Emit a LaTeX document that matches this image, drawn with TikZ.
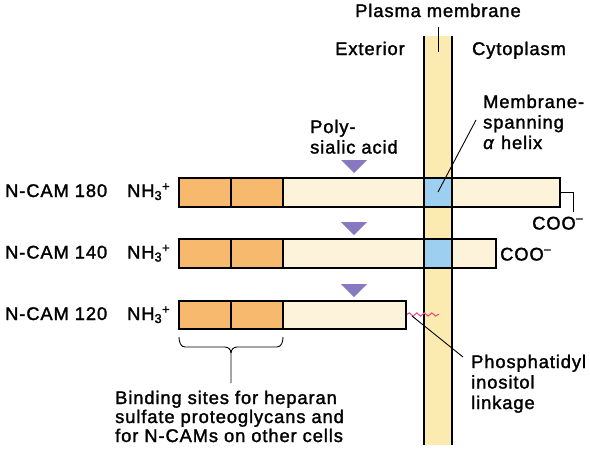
\documentclass[tikz,border=0pt]{standalone}
\usepackage{fontspec}
\setmainfont{Liberation Sans}[LetterSpace=5,FakeBold=1.6]
\usetikzlibrary{decorations.pathmorphing}
\definecolor{orangeD}{HTML}{F6B96E}
\definecolor{creamD}{HTML}{FDF2DA}
\definecolor{membY}{HTML}{FCEBB0}
\definecolor{blueH}{HTML}{9DD0F0}
\definecolor{purpT}{HTML}{8878C0}
\definecolor{pinkW}{HTML}{E8508A}
\newcommand{\lns}[1]{\begin{tabular}[t]{@{}l@{}}#1\end{tabular}}
\begin{document}
\begin{tikzpicture}[x=1pt,y=-1pt,
  lbl/.style={font=\fontsize{18.3}{20.5}\selectfont, inner sep=0pt, anchor=base west},
  lblc/.style={font=\fontsize{18.3}{20.5}\selectfont, inner sep=0pt, anchor=base},
  bline/.style={draw=black, line width=1.1pt},
  lead/.style={draw=black, line width=0.9pt},
  tri/.style={fill=purpT}]
\useasboundingbox (0,0) rectangle (590,450);
\fill[white] (0,0) rectangle (590,450);
% membrane
\fill[membY] (424,36) rectangle (452,445);
% bars
\foreach \ya/\yb/\xe/\bl in {178/207/560/1, 239/268/496/1, 301/329/406/0}{
  \fill[creamD] (179,\ya) rectangle (\xe,\yb);
  \fill[orangeD] (179,\ya) rectangle (283,\yb);
  \ifnum\bl=1 \fill[blueH] (424,\ya) rectangle (452,\yb); \fi
  \draw[bline] (179,\ya) rectangle (\xe,\yb);
  \draw[bline] (231,\ya) -- (231,\yb);
  \draw[bline] (283,\ya) -- (283,\yb);
}
\draw[bline] (424,36) -- (424,445);
\draw[bline] (452,36) -- (452,445);
% polysialic triangles
\fill[tri] (341,160) -- (367,160) -- (354,173) -- cycle;
\fill[tri] (341,222) -- (367,222) -- (354,235) -- cycle;
\fill[tri] (341,284) -- (367,284) -- (354,297) -- cycle;
% labels top
\node[lblc] (pm) at (438,17) {Plasma membrane};
\coordinate (pmt) at (438,27);
\coordinate (pmb) at (438,52);
\draw[lead] (pmt) -- (pmb);
\node[lblc] (ext) at (370,55) {Exterior};
\node[lblc] (cyt) at (519,55) {Cytoplasm};
\node[lbl] (poly) at (310,133) {\lns{Poly-\\sialic acid}};
\node[lbl] (msh) at (483,108) {\lns{Membrane-\\spanning\\\textit{α} helix}};
\coordinate (mshA) at (476,120);
\coordinate (mshB) at (438,192);
\draw[lead] (mshA) -- (mshB);
% row labels
\node[lbl] (n180) at (5,197) {N-CAM 180};
\node[lbl] (n140) at (5,258.5) {N-CAM 140};
\node[lbl] (n120) at (5,320) {N-CAM 120};
\node[lbl] (h180) at (127,197) {NH\textsubscript{3}\textsuperscript{+}};
\node[lbl] (h140) at (127,258.5) {NH\textsubscript{3}\textsuperscript{+}};
\node[lbl] (h120) at (127,320) {NH\textsubscript{3}\textsuperscript{+}};
% COO-
\coordinate (c1a) at (560,192);
\coordinate (c1b) at (573,192);
\coordinate (c1c) at (573,212);
\draw[bline, line width=1pt] (c1a) -- (c1b) -- (c1c);
\node[lbl] (coo1) at (532,229.5) {COO\textsuperscript{−}};
\node[lbl] (coo2) at (500,260.5) {COO\textsuperscript{−}};
% GPI wiggle
\coordinate (wa) at (407,314.5);
\coordinate (wb) at (439,314.5);
\draw[pinkW, line width=1.1pt, decorate, decoration={snake, segment length=7.5pt, amplitude=1.6pt}] (wa) -- (wb);
\coordinate (pa) at (412,316);
\coordinate (pb) at (463,357);
\draw[lead] (pa) -- (pb);
\node[lbl] (phos) at (471,368) {\lns{Phosphatidyl\\inositol\\linkage}};
% bracket
\draw[lead] (179,337) to[out=-90,in=180] (185,347) -- (225,347) to[out=0,in=90] (231,353) -- (231,383);
\draw[lead] (231,353) to[out=90,in=180] (237,347) -- (277,347) to[out=0,in=-90] (283,337);
\node[lbl, font=\fontsize{18.3}{19}\selectfont] (bind) at (115,404) {\lns{Binding sites for heparan\\sulfate proteoglycans and\\for N-CAMs on other cells}};
\end{tikzpicture}
\end{document}
